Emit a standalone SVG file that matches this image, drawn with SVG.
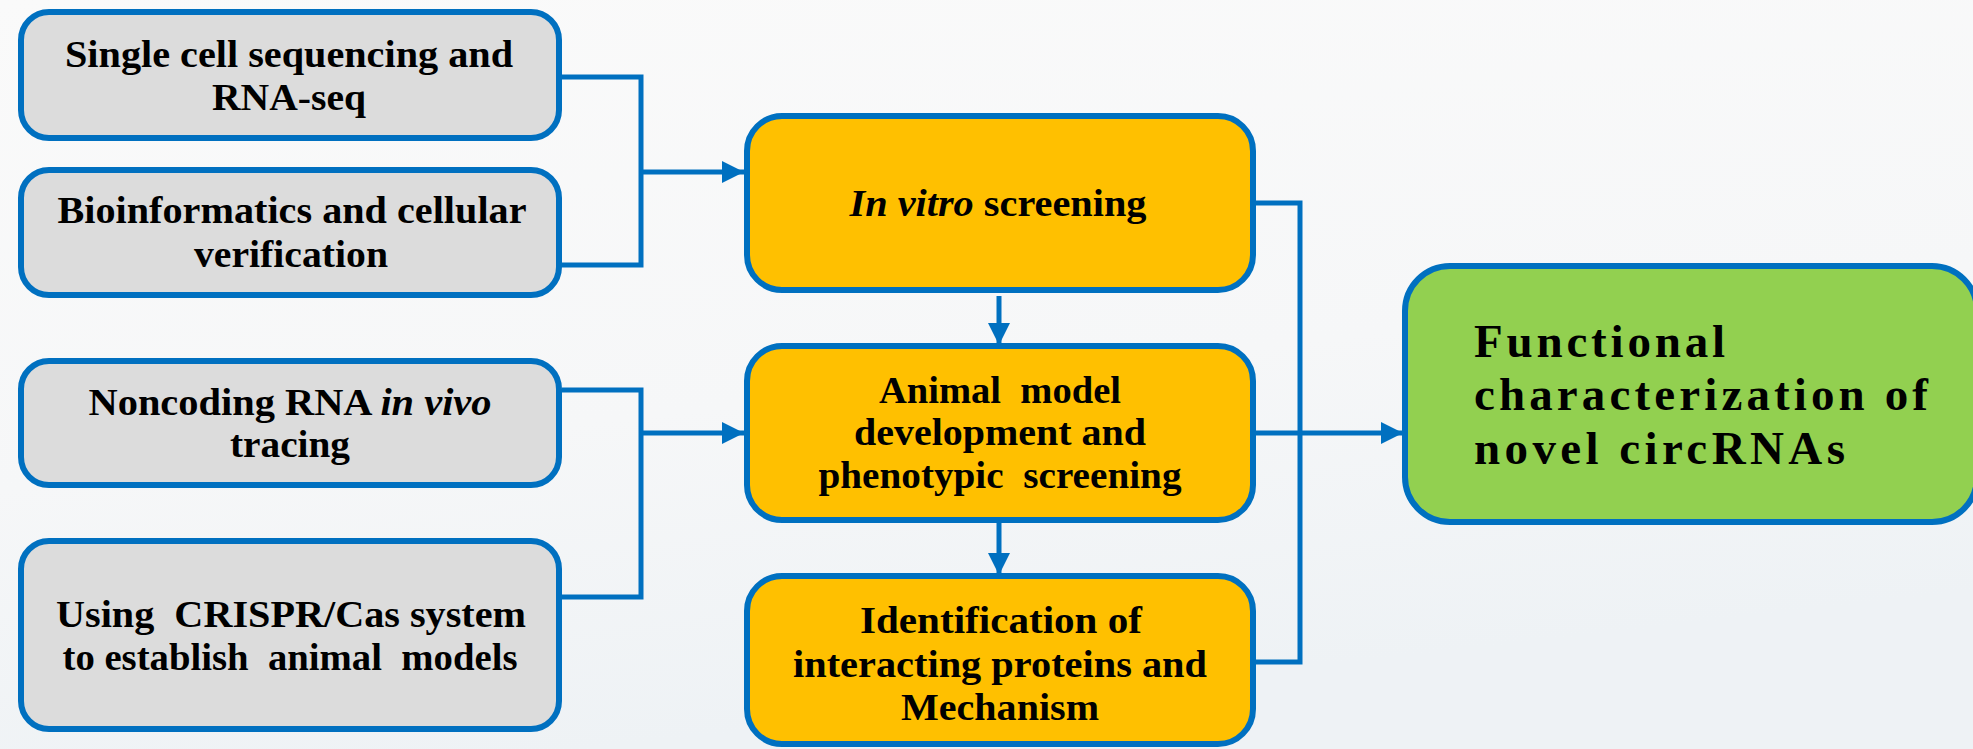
<svg xmlns="http://www.w3.org/2000/svg" width="1973" height="749" viewBox="0 0 1973 749">
<style>
.box{stroke:#0070C0;stroke-width:6}
.gray{fill:#DCDCDC}
.orange{fill:#FFC000}
.green{fill:#92D050}
.t{font-family:"Liberation Serif","Times New Roman",serif;font-weight:bold;fill:#000;font-size:38px;text-anchor:middle;white-space:pre}
.tg{font-family:"Liberation Serif","Times New Roman",serif;font-weight:bold;fill:#000;font-size:47px}
.c{fill:none;stroke:#0070C0;stroke-width:5}
</style>
<defs>
<linearGradient id="bg" x1="0" y1="0" x2="0.3" y2="1">
<stop offset="0" stop-color="#FAFAFA"/>
<stop offset="0.6" stop-color="#F6F7F8"/>
<stop offset="1" stop-color="#EEF2F5"/>
</linearGradient>
<marker id="ah" markerUnits="userSpaceOnUse" markerWidth="22" markerHeight="22" refX="20" refY="10" orient="auto" viewBox="0 0 20 20">
<path d="M0,0 L20,10 L0,20 z" fill="#0070C0"/>
</marker>
</defs>
<rect width="1973" height="749" fill="url(#bg)"/>
<g id="connectors">
<path class="c" d="M562,77 H641 V265 H562"/>
<path class="c" d="M641,172 H744" marker-end="url(#ah)"/>
<path class="c" d="M562,390 H641 V597 H562"/>
<path class="c" d="M641,433 H744" marker-end="url(#ah)"/>
<path class="c" d="M999,296 V345" marker-end="url(#ah)"/>
<path class="c" d="M999,523 V575" marker-end="url(#ah)"/>
<path class="c" d="M1256,203 H1300 V662 H1256"/>
<path class="c" d="M1256,433 H1403" marker-end="url(#ah)"/>
</g>
<g id="n1">
<rect class="box gray" x="21" y="12" width="538" height="126" rx="28"/>
<text class="t" x="289" y="67" textLength="448" lengthAdjust="spacingAndGlyphs">Single cell sequencing and</text>
<text class="t" x="289" y="110" textLength="154" lengthAdjust="spacingAndGlyphs">RNA-seq</text>
</g>
<g id="n2">
<rect class="box gray" x="21" y="170" width="538" height="125" rx="28"/>
<text class="t" x="292" y="223" textLength="469" lengthAdjust="spacingAndGlyphs">Bioinformatics and cellular</text>
<text class="t" x="291" y="267" textLength="194" lengthAdjust="spacingAndGlyphs">verification</text>
</g>
<g id="n3">
<rect class="box gray" x="21" y="361" width="538" height="124" rx="28"/>
<text class="t" x="290" y="415" textLength="403" lengthAdjust="spacingAndGlyphs">Noncoding RNA <tspan font-style="italic">in vivo</tspan></text>
<text class="t" x="290" y="457" textLength="120" lengthAdjust="spacingAndGlyphs">tracing</text>
</g>
<g id="n4">
<rect class="box gray" x="21" y="541" width="538" height="188" rx="28"/>
<text class="t" x="291" y="627" textLength="470" lengthAdjust="spacingAndGlyphs">Using  CRISPR/Cas system</text>
<text class="t" x="290" y="670" textLength="455" lengthAdjust="spacingAndGlyphs">to establish  animal  models</text>
</g>
<g id="n5">
<rect class="box orange" x="747" y="116" width="506" height="174" rx="35"/>
<text class="t" x="998" y="216" textLength="297" lengthAdjust="spacingAndGlyphs"><tspan font-style="italic">In vitro</tspan> screening</text>
</g>
<g id="n6">
<rect class="box orange" x="747" y="346" width="506" height="174" rx="35"/>
<text class="t" x="1000" y="403" textLength="242" lengthAdjust="spacingAndGlyphs">Animal  model</text>
<text class="t" x="1000" y="445" textLength="292" lengthAdjust="spacingAndGlyphs">development and</text>
<text class="t" x="1000" y="488" textLength="363" lengthAdjust="spacingAndGlyphs">phenotypic  screening</text>
</g>
<g id="n7">
<rect class="box orange" x="747" y="576" width="506" height="168" rx="35"/>
<text class="t" x="1001" y="633" textLength="282" lengthAdjust="spacingAndGlyphs">Identification of</text>
<text class="t" x="1000" y="677" textLength="414" lengthAdjust="spacingAndGlyphs">interacting proteins and</text>
<text class="t" x="1000" y="720" textLength="198" lengthAdjust="spacingAndGlyphs">Mechanism</text>
</g>
<g id="n8">
<rect class="box green" x="1405" y="266" width="572" height="256" rx="45"/>
<text class="tg" x="1474" y="357" textLength="251" lengthAdjust="spacing">Functional</text>
<text class="tg" x="1474" y="410" textLength="454" lengthAdjust="spacing">characterization of</text>
<text class="tg" x="1474" y="464" textLength="371" lengthAdjust="spacing">novel circRNAs</text>
</g>
</svg>
